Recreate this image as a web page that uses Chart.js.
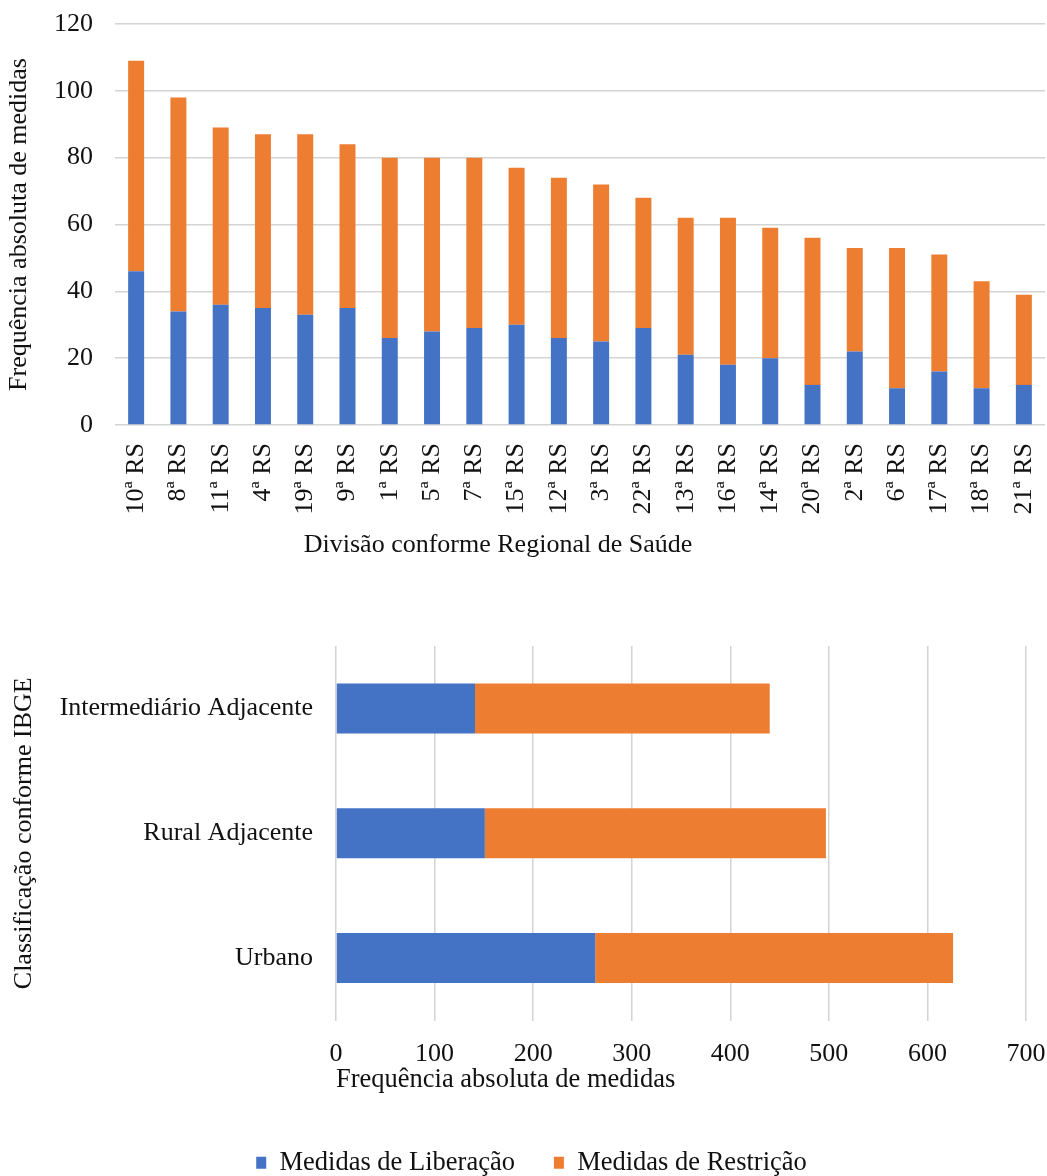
<!DOCTYPE html>
<html>
<head>
<meta charset="utf-8">
<script src="https://cdn.jsdelivr.net/npm/chart.js@4.4.0/dist/chart.umd.min.js"></script>
<style>
  html, body { margin: 0; padding: 0; background: #fff; overflow: hidden; width: 1047px; height: 1176px; }
  #top { position: absolute; left: 0; top: 0; width: 1047px; height: 570px; }
  #bottom { position: absolute; left: 0; top: 620px; width: 1047px; height: 566px; }
</style>
</head>
<body>
<div id="top"><canvas id="chartRS"></canvas></div>
<div id="bottom"><canvas id="chartIBGE"></canvas></div>
<script>
// regionais de saude, ordenadas pelo total
const regionais = ['10ª RS','8ª RS','11ª RS','4ª RS','19ª RS','9ª RS','1ª RS','5ª RS','7ª RS','15ª RS','12ª RS',
  '3ª RS','22ª RS','13ª RS','16ª RS','14ª RS','20ª RS','2ª RS','6ª RS','17ª RS','18ª RS','21ª RS']
const liberacaoRS = [46,34,36,35,33,35,26,28,29,30,26,25,29,21,18,20,12,22,11,16,11,12]
const restricaoRS = [63,64,53,52,54,49,54,52,51,47,48,47,39,41,44,39,44,31,42,35,32,27]
const yTicksRS = {min: 0, max: 120, step: 20}

// classificacao IBGE
const classes = ['Intermediário Adjacente','Rural Adjacente','Urbano']
const liberacaoIBGE = [141,151,263]
const restricaoIBGE = [299,346,363]
const xTicksIBGE = {min: 0, max: 700, step: 100}

const seriesNames = ['Medidas de Liberação','Medidas de Restrição']
const blue = '#4472C4'
const orange = '#ED7D31'
const gridColor = '#d4d4d4'
const textColor = '#111'
const fontFamily = '"Liberation Serif", "Times New Roman", serif'

Chart.defaults.font.family = fontFamily
Chart.defaults.font.size = 26
Chart.defaults.color = textColor

function dataset(label, data, color, extras = {}) {
  return { label, data, backgroundColor: color, borderWidth: 0, ...extras }
}

// keep the plot area where the layout padding puts it
function noPad(scale) {
  scale.paddingLeft = 0
  scale.paddingRight = 0
  scale.paddingTop = 0
  scale.paddingBottom = 0
}

// the x title of the first chart sits left of the plot centre, as in the original
const axisTitle = {
  id: 'axisTitle',
  afterDraw(chart, args, opts) {
    if (!opts.text) return
    const ctx = chart.ctx
    ctx.save()
    ctx.font = '26px ' + fontFamily
    ctx.fillStyle = textColor
    ctx.textAlign = 'center'
    ctx.textBaseline = 'middle'
    ctx.fillText(opts.text, opts.x, opts.y)
    ctx.restore()
  }
}

new Chart(document.getElementById('chartRS'), {
  type: 'bar',
  data: {
    labels: regionais,
    datasets: [
      dataset(seriesNames[0], liberacaoRS, blue, {barPercentage: 0.378, categoryPercentage: 1}),
      dataset(seriesNames[1], restricaoRS, orange, {barPercentage: 0.378, categoryPercentage: 1})
    ]
  },
  plugins: [axisTitle],
  options: {
    responsive: true,
    maintainAspectRatio: false,
    animation: false,
    devicePixelRatio: 1,
    layout: { padding: { top: 24, right: 2, left: 0, bottom: 0 } },
    plugins: {
      legend: { display: false },
      tooltip: { enabled: false },
      axisTitle: { text: 'Divisão conforme Regional de Saúde', x: 498, y: 545 }
    },
    scales: {
      x: {
        stacked: true,
        grid: { display: false, drawTicks: false },
        border: { display: false },
        ticks: { minRotation: 90, maxRotation: 90, padding: 18, autoSkip: false },
        afterFit: (scale) => { scale.height = 145; noPad(scale) }
      },
      y: {
        stacked: true,
        min: yTicksRS.min,
        max: yTicksRS.max,
        ticks: { stepSize: yTicksRS.step, padding: 22 },
        grid: { color: gridColor, lineWidth: 1.5, drawTicks: false },
        border: { display: false },
        title: { display: true, text: 'Frequência absoluta de medidas', padding: { top: 4, bottom: 4 } },
        afterFit: (scale) => { scale.width = 115; noPad(scale) }
      }
    }
  }
})

new Chart(document.getElementById('chartIBGE'), {
  type: 'bar',
  data: {
    labels: classes,
    datasets: [
      dataset(seriesNames[0], liberacaoIBGE, blue, {barPercentage: 0.4, categoryPercentage: 1}),
      dataset(seriesNames[1], restricaoIBGE, orange, {barPercentage: 0.4, categoryPercentage: 1})
    ]
  },
  options: {
    indexAxis: 'y',
    responsive: true,
    maintainAspectRatio: false,
    animation: false,
    devicePixelRatio: 1,
    layout: { padding: { top: 26, right: 21, left: 37, bottom: 0 } },
    plugins: {
      tooltip: { enabled: false },
      legend: {
        position: 'bottom',
        labels: { boxWidth: 10, boxHeight: 12, padding: 39, font: { size: 26.5 }, color: textColor }
      }
    },
    scales: {
      x: {
        stacked: true,
        min: xTicksIBGE.min,
        max: xTicksIBGE.max,
        ticks: { stepSize: xTicksIBGE.step, padding: 18 },
        grid: { color: gridColor, lineWidth: 1.5, drawTicks: false },
        border: { display: false },
        title: { display: true, text: 'Frequência absoluta de medidas', align: 'start', font: { size: 26.5 }, padding: { top: 0, bottom: 15 } },
        afterFit: (scale) => { scale.height = 90; noPad(scale) }
      },
      y: {
        stacked: true,
        grid: { display: false, drawTicks: false },
        border: { display: false },
        ticks: { padding: 23 },
        title: { display: true, text: 'Classificação conforme IBGE', padding: { top: -28.6, bottom: 0 } },
        afterFit: (scale) => { scale.width = 299; noPad(scale) }
      }
    }
  }
})
</script>
</body>
</html>
